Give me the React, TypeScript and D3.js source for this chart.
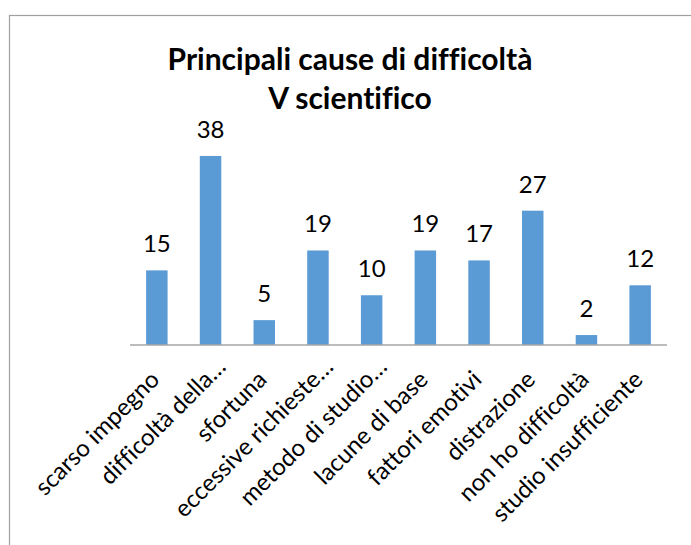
import React, { useEffect, useRef } from 'react';
import * as d3 from 'd3';

const categories = [
    "scarso impegno",
    "difficoltà della…",
    "sfortuna",
    "eccessive richieste…",
    "metodo di studio…",
    "lacune di base",
    "fattori emotivi",
    "distrazione",
    "non ho difficoltà",
    "studio insufficiente",
];
const values = [15, 38, 5, 19, 10, 19, 17, 27, 2, 12];
const titleLines = ["Principali cause di difficoltà", "V scientifico"];

const width = 691;
const height = 545;
const font = "Lato, 'Open Sans', sans-serif";

export default function App() {
    const ref = useRef<SVGSVGElement>(null);

    useEffect(() => {
        const svg = d3.select(ref.current);
        svg.selectAll("*").remove();

        const axisY = 345;
        const x = d3.scaleBand<string>()
            .domain(categories)
            .range([130, 667])
            .paddingInner(0.6)
            .paddingOuter(0.3);
        const y = d3.scaleLinear()
            .domain([0, 40])
            .range([axisY, 146]);

        // chart frame (cropped on right and bottom)
        svg.append("rect")
            .attr("x", 9.5)
            .attr("y", 15.5)
            .attr("width", 760)
            .attr("height", 600)
            .attr("fill", "white")
            .attr("stroke", "#a0a0a0")
            .attr("stroke-width", 1.2);

        // title
        svg.append("g").selectAll("text")
            .data(titleLines)
            .join("text")
            .attr("x", 350)
            .attr("y", (d, i) => 70 + i * 39)
            .attr("text-anchor", "middle")
            .attr("font-family", font)
            .attr("font-weight", "bold")
            .attr("font-size", 30)
            .style("font-variant-ligatures", "none")
            .attr("fill", "#000")
            .text(d => d);

        // bars
        svg.append("g").selectAll("rect")
            .data(values)
            .join("rect")
            .attr("x", (d, i) => x(categories[i])!)
            .attr("y", d => y(d))
            .attr("width", x.bandwidth())
            .attr("height", d => y(0) - y(d))
            .attr("fill", "#5B9BD5");

        // value labels
        svg.append("g").selectAll("text")
            .data(values)
            .join("text")
            .attr("x", (d, i) => x(categories[i])! + x.bandwidth() / 2)
            .attr("y", d => y(d) - 18)
            .attr("text-anchor", "middle")
            .attr("font-family", font)
            .attr("font-size", 24)
            .attr("fill", "#000")
            .text(d => d);

        // axis line
        svg.append("line")
            .attr("x1", 130)
            .attr("x2", 667)
            .attr("y1", axisY)
            .attr("y2", axisY)
            .attr("stroke", "#a6a6a6")
            .attr("stroke-width", 1.5);

        // category labels, rotated -45; trailing ellipsis hangs past the anchor
        categories.forEach(c => {
            const cx = x(c)! + x.bandwidth() / 2;
            const g = svg.append("g")
                .attr("transform", `translate(${cx + 4},381) rotate(-45)`)
                .attr("font-family", font)
                .attr("font-size", 24)
                .style("font-variant-ligatures", "none")
                .attr("fill", "#000");
            const trunc = c.endsWith("…");
            g.append("text")
                .attr("text-anchor", "end")
                .text(trunc ? c.slice(0, -1) : c);
            if (trunc) {
                g.append("text")
                    .attr("text-anchor", "start")
                    .text("…");
            }
        });
    }, []);

    return (
        <svg
            ref={ref}
            width={width}
            height={height}
            style={{ position: "absolute", left: 0, top: 0, background: "white" }}
        />
    );
}
